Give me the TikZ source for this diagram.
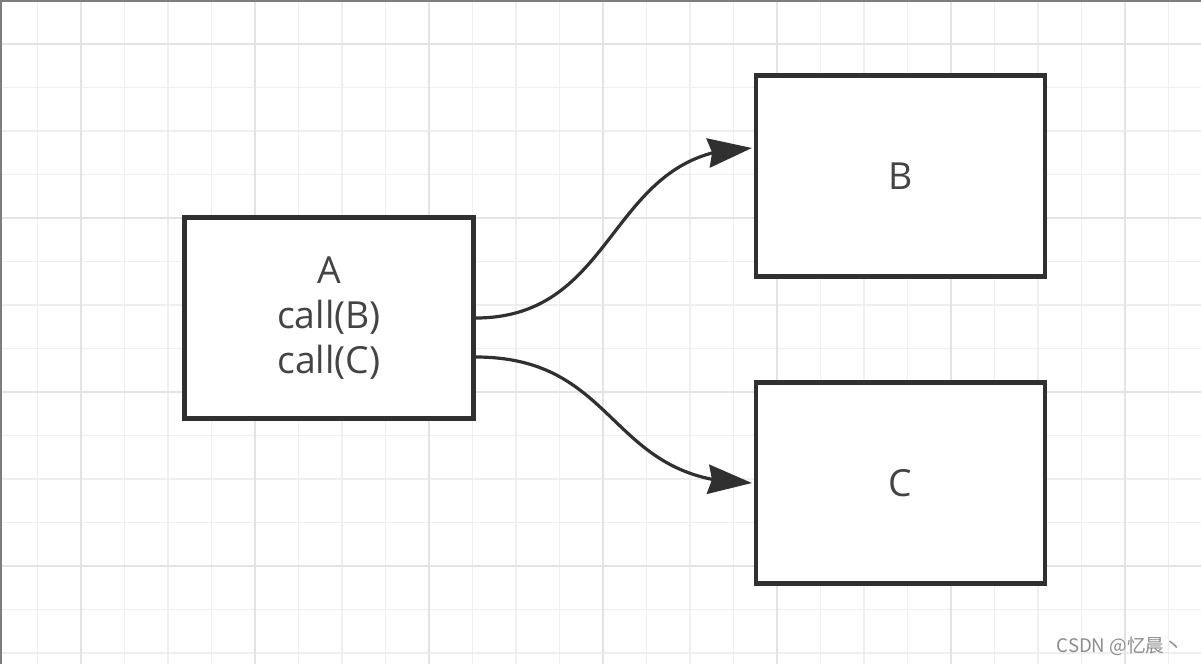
\documentclass[tikz,border=0pt]{standalone}
\usepackage{fontspec}
\setmainfont{Open Sans}
\newfontfamily\cjkfont{Noto Sans CJK SC}
\usetikzlibrary{arrows.meta, bending, calc}
\definecolor{ink}{RGB}{48,48,48}
\definecolor{textgray}{RGB}{68,68,68}
\definecolor{gridminor}{RGB}{239,239,239}
\definecolor{gridmajor}{RGB}{227,227,227}
\definecolor{framegray}{RGB}{125,125,125}
\definecolor{wmgray}{RGB}{140,140,140}

\begin{document}
\begin{tikzpicture}[x=0.75pt, y=-0.75pt,
      every node/.style={font=\fontsize{28}{33.75}\selectfont, text=textgray},
      box/.style={draw=ink, line width=3.2pt, fill=white, align=center, inner sep=0pt,
                  minimum width=216.75pt, minimum height=150.75pt},
      ar/.style={-{Stealth[length=33pt, width=22pt, inset=3pt, flex]}, draw=ink, line width=2.4pt}]
    \useasboundingbox (0,0) rectangle (1201,664);
    \fill[white] (0,0) rectangle (1201,664);
    % background grid
    \foreach \k in {1,...,27} \draw[gridminor, line width=0.8pt] ({-6+43.5*\k},0) -- ({-6+43.5*\k},664);
    \foreach \k in {1,...,15} \draw[gridminor, line width=0.8pt] (0,{0.5+43.5*\k}) -- (1201,{0.5+43.5*\k});
    \foreach \k in {2,6,...,26} \draw[gridmajor, line width=0.8pt] ({-6+43.5*\k},0) -- ({-6+43.5*\k},664);
    \foreach \k in {1,5,9,13} \draw[gridmajor, line width=0.8pt] (0,{0.5+43.5*\k}) -- (1201,{0.5+43.5*\k});
    \draw[framegray, line width=1.5pt] (1,664) -- (1,0.75) -- (1201,0.75);

    \node[box] (a) at (329,318) {A\\call(B)\\call(C)};
    \node[box] (b) at (900.5,176) {B};
    \node[box] (c) at (900.5,483) {C};
    \draw[ar] (a.east) .. controls +(145,0) and +(-145,0) .. ($(b.west)+(-2,-28)$);
    \draw[ar] ($(a.east)+(0,39)$) .. controls +(145,0) and +(-145,0) .. ($(c.west)+(-2,0)$);

    \node[font=\cjkfont\fontsize{14}{16}\selectfont, text=wmgray, anchor=base east] (wm) at (1188,652) {CSDN @忆晨丶};
  \end{tikzpicture}
\end{document}
